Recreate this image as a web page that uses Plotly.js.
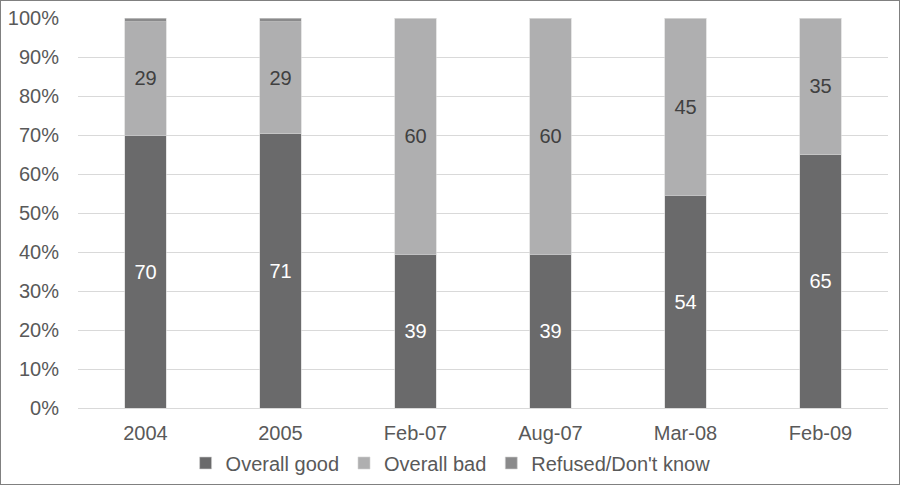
<!DOCTYPE html>
<html>
<head>
<meta charset="utf-8">
<script src="https://cdn.plot.ly/plotly-3.0.1.min.js"></script>
<style>
  body { margin: 0; background: #fff; }
  #chart { width: 898px; height: 483px; border: 1px solid #808080; }
</style>
</head>
<body>
<div id="chart"></div>
<script>
let periods = ["2004", "2005", "Feb-07", "Aug-07", "Mar-08", "Feb-09"];
let good = [70, 71, 39, 39, 54, 65];
let bad = [29, 29, 60, 60, 45, 35];
let refused = [1, 1, 0, 0, 0, 0];
let yTicks = [0, 10, 20, 30, 40, 50, 60, 70, 80, 90, 100];

let barLine = { color: "#d4d4d4", width: 0.6 };

let trace1 = {
    x: periods,
    y: good,
    name: "Overall good",
    type: "bar",
    text: good.map(String),
    textposition: "inside",
    insidetextanchor: "middle",
    textfont: { color: "#ffffff", size: 20 },
    marker: { color: "#6a6a6b", line: barLine },
    hoverinfo: "skip"
};

let trace2 = {
    x: periods,
    y: bad,
    name: "Overall bad",
    type: "bar",
    text: bad.map(String),
    textposition: "inside",
    insidetextanchor: "middle",
    textfont: { color: "#404040", size: 20 },
    marker: { color: "#afafb0", line: barLine },
    hoverinfo: "skip"
};

let trace3 = {
    x: periods,
    y: refused,
    name: "Refused/Don't know",
    type: "bar",
    textposition: "none",
    marker: { color: "#8a8a8b", line: barLine },
    hoverinfo: "skip"
};

let layout = {
    barmode: "stack",
    barnorm: "percent",
    bargap: 0.695,
    width: 898,
    height: 483,
    margin: { l: 77, r: 11, t: 17, b: 76, autoexpand: false },
    paper_bgcolor: "#ffffff",
    plot_bgcolor: "#ffffff",
    font: { family: "Liberation Sans, Arial, sans-serif", size: 20, color: "#595959" },
    showlegend: true,
    legend: {
        orientation: "h",
        x: 0.46,
        xanchor: "center",
        y: -0.141,
        yanchor: "middle",
        bgcolor: "rgba(0,0,0,0)",
        font: { size: 20, color: "#595959" },
        itemwidth: 30,
        traceorder: "normal"
    },
    xaxis: {
        type: "category",
        showgrid: false,
        showline: true,
        linecolor: "#d9d9d9",
        linewidth: 1,
        ticks: "outside",
        ticklen: 7,
        tickcolor: "rgba(0,0,0,0)",
        tickfont: { size: 20, color: "#595959" }
    },
    yaxis: {
        range: [0, 100],
        tickvals: yTicks,
        ticktext: yTicks.map(v => v + "%"),
        showgrid: true,
        gridcolor: "#d9d9d9",
        gridwidth: 1,
        zeroline: false,
        showline: false,
        ticks: "outside",
        ticklen: 14,
        tickcolor: "rgba(0,0,0,0)",
        tickfont: { size: 20, color: "#595959" }
    }
};

Plotly.newPlot("chart", [trace1, trace2, trace3], layout, { displayModeBar: false, staticPlot: true });
</script>
</body>
</html>
